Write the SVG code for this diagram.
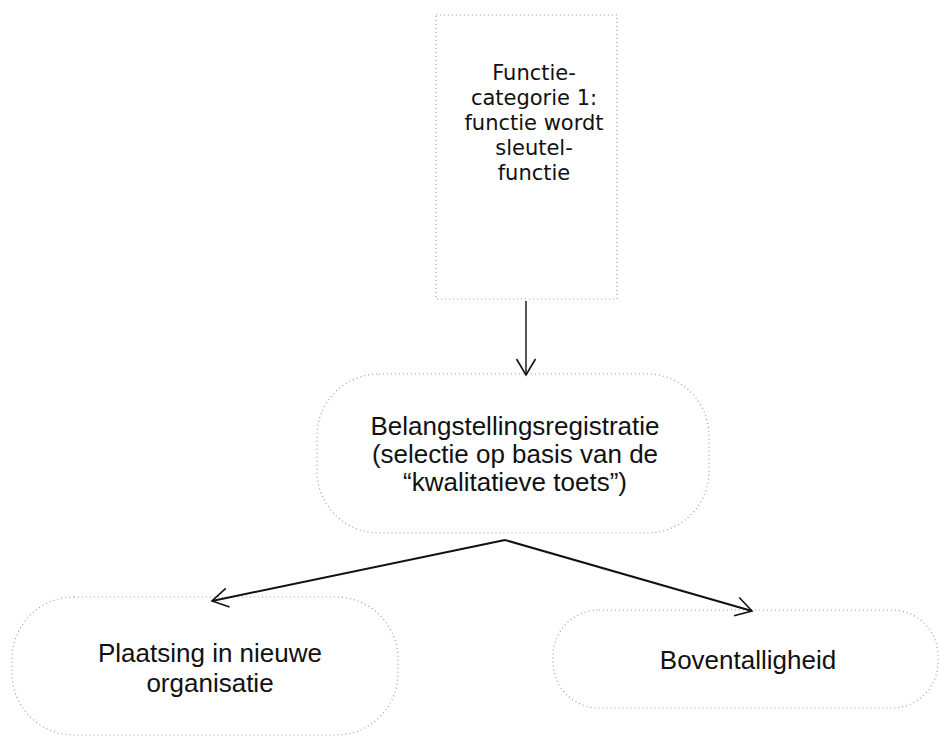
<svg xmlns="http://www.w3.org/2000/svg" width="939" height="737" viewBox="0 0 939 737">
  <style>
    .box { fill: #ffffff; stroke: #a0a0a0; stroke-width: 1.2; stroke-dasharray: 1 3; }
    .t1 { font-family: "DejaVu Sans", sans-serif; font-size: 21px; fill: #111; text-anchor: middle; }
    .t2 { font-family: "Liberation Sans", Arial, sans-serif; font-size: 26px; fill: #111; text-anchor: middle; }
    .conn { stroke: #111; fill: none; }
  </style>
  <defs>
    <marker id="arr" markerUnits="userSpaceOnUse" markerWidth="20" markerHeight="22" refX="17" refY="11" orient="auto">
      <path d="M1 1.5 L17 11 L1 20.5" fill="none" stroke="#111" stroke-width="1.6"/>
    </marker>
  </defs>
  <rect width="939" height="737" fill="#ffffff"/>

  <g id="node-functiecategorie">
    <rect class="box" x="436" y="15" width="181" height="284"/>
    <text class="t1" x="534" y="80">Functie-</text>
    <text class="t1" x="534" y="105">categorie 1:</text>
    <text class="t1" x="534" y="130">functie wordt</text>
    <text class="t1" x="534" y="155">sleutel-</text>
    <text class="t1" x="534" y="180">functie</text>
  </g>

  <g id="node-belangstelling">
    <rect class="box" x="317" y="374" width="392" height="159" rx="62" ry="62"/>
    <text class="t2" x="515" y="435">Belangstellingsregistratie</text>
    <text class="t2" x="515" y="463">(selectie op basis van de</text>
    <text class="t2" x="515" y="491">“kwalitatieve toets”)</text>
  </g>

  <g id="node-plaatsing">
    <rect class="box" x="12" y="597" width="386" height="138" rx="62" ry="62"/>
    <text class="t2" x="210" y="662">Plaatsing in nieuwe</text>
    <text class="t2" x="210" y="692">organisatie</text>
  </g>

  <g id="node-boventalligheid">
    <rect class="box" x="553" y="610" width="385" height="98" rx="46" ry="46"/>
    <text class="t2" x="748" y="669">Boventalligheid</text>
  </g>

  <g id="connectors">
    <line class="conn" x1="526" y1="301" x2="526" y2="375" stroke-width="1.4" marker-end="url(#arr)"/>
    <line class="conn" x1="505" y1="540" x2="212" y2="601" stroke-width="2" marker-end="url(#arr)"/>
    <line class="conn" x1="505" y1="540" x2="752" y2="611" stroke-width="2" marker-end="url(#arr)"/>
  </g>
</svg>
